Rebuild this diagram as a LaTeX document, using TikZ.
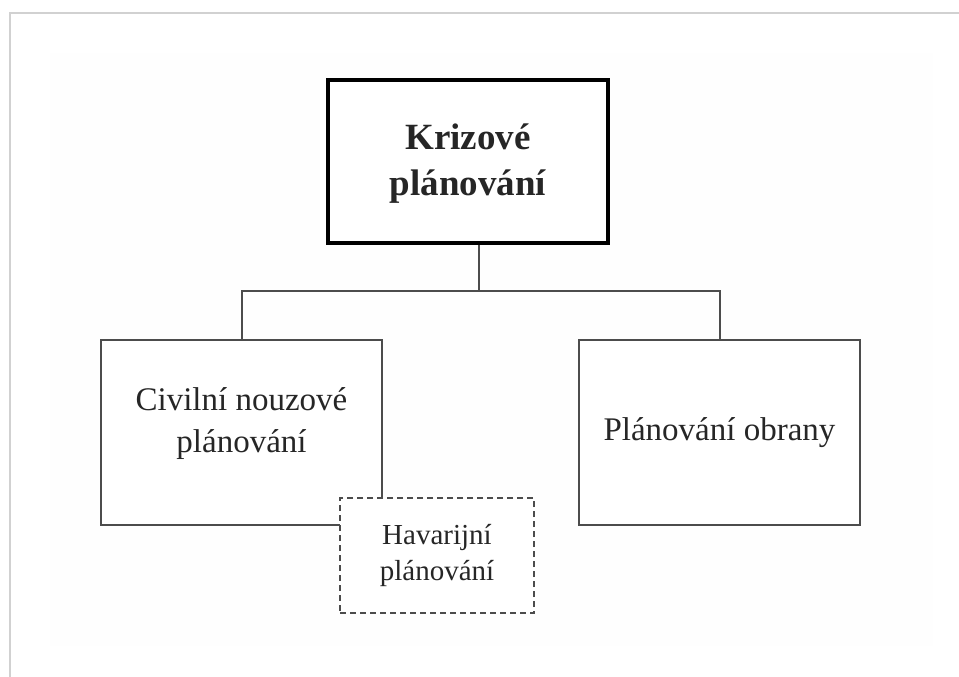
\documentclass[tikz,border=0pt]{standalone}
\usepackage{fontspec}
\setmainfont{Liberation Serif}
\usepackage{tikz}
\usetikzlibrary{calc}
\usetikzlibrary{positioning}

\begin{document}
\begin{tikzpicture}[x=1pt,y=-1pt,semithick]
 \tikzstyle{box}=[draw=black!70, line width=2pt, rectangle, fill=white,
                  minimum width=281pt, minimum height=185pt, inner sep=0pt]
 \tikzstyle{mainbox}=[draw=black, line width=4.5pt, rectangle, fill=white,
                  minimum width=280pt, minimum height=163pt, inner sep=0pt]
 \tikzstyle{dashbox}=[box, dash pattern=on 6pt off 4pt,
                  minimum width=194pt, minimum height=115pt]
 \tikzstyle{txt}=[align=center, text=black!85, inner sep=0pt]
 \tikzstyle{conn}=[draw=black!70, line width=2pt]
 \useasboundingbox (0,0) rectangle (959,677);
 % frame of the page
 \fill[black!0.5] (50,53) rectangle (933,646);
 \draw[black!18, line width=1.5pt] (10,677) -- (10,13) -- (959,13);
 % boxes
 \node[mainbox] (krz) at (468,161.5) {};
 \node[txt, font=\fontsize{37}{46}\selectfont\bfseries] (krztxt) at ([yshift=-2pt]krz.center)
      {Krizové\\plánování};
 \node[box] (civ) at (241.5,432.5) {};
 \node[txt, font=\fontsize{33}{42}\selectfont] (civtxt) at ([yshift=9pt]civ.center)
      {Civilní nouzové\\plánování};
 \node[box] (obr) at (719.5,432.5) {};
 \node[txt, font=\fontsize{33}{42}\selectfont] (obrtxt) at (obr.center)
      {Plánování obrany};
 \node[dashbox] (hav) at (437,555.5) {};
 \node[txt, font=\fontsize{29}{36}\selectfont] (havtxt) at (hav.center)
      {Havarijní\\plánování};
 % connectors
 \coordinate (bus) at (479,291);
 \draw[conn] ([xshift=11pt]krz.south) -- (bus);
 \draw[conn] (civ.north) |- (bus) -| (obr.north);
\end{tikzpicture}
\end{document}
